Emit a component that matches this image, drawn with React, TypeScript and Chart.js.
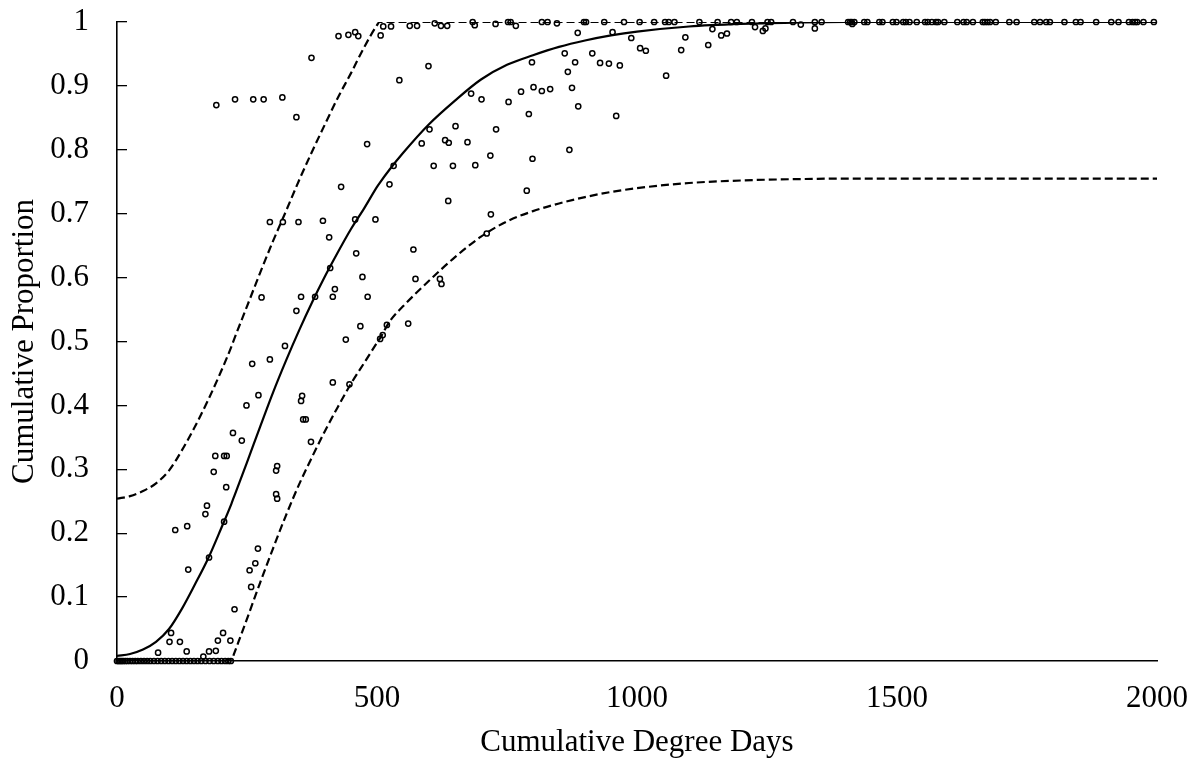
import React, { useEffect, useRef } from "react";
import { Chart, registerables } from "chart.js";

Chart.register(...registerables);

// Observations lying on 0 (x values)
const zeroX = [0, 3, 6, 9, 12, 16, 20, 25, 30, 35, 40, 46, 52, 58, 64, 71, 78, 85, 92, 99, 106, 113, 120, 127, 134, 141, 148, 155, 162, 170, 178, 186, 194, 201, 208, 214, 219];

// Observations lying on 1 (x values)
const oneX = [752, 757, 817, 828, 898, 902, 937, 975, 1005, 1033, 1054, 1061, 1072, 1120, 1155, 1181, 1192, 1221, 1251, 1258, 1300, 1342, 1355, 1406, 1410, 1413, 1418, 1437, 1443, 1466, 1472, 1492, 1499, 1512, 1517, 1524, 1538, 1554, 1559, 1567, 1575, 1579, 1591, 1616, 1628, 1634, 1646, 1665, 1669, 1674, 1679, 1690, 1716, 1730, 1764, 1775, 1787, 1794, 1822, 1844, 1853, 1883, 1912, 1926, 1946, 1953, 1958, 1962, 1974, 1994];

// Other observations
const obsX = [
  79, 101, 104, 121, 134, 166, 177, 190, 194, 204, 218, 226,
  112, 135, 137, 177, 206, 170, 173, 186, 189, 206, 211, 210, 223, 240, 249, 260, 272, 294, 323, 255, 258, 266, 271, 306, 308, 306, 308, 354, 356, 358, 363, 373, 415, 447, 440, 506, 511, 519,
  191, 227, 262, 282, 318, 345, 374, 426, 445, 458, 464, 507, 512, 527, 563, 577, 611, 623, 635, 684, 688, 728, 599, 543, 681, 701, 601, 651, 586, 631, 638, 674, 729, 481, 609, 646, 689, 718, 532, 524, 431, 637, 719, 711, 294, 319, 349, 396, 458, 497, 408, 460, 410, 472, 419, 415, 381, 354, 278, 482, 345, 570, 574, 621, 624, 468, 560,
  767, 846, 1315, 1342, 1414, 886, 953, 989, 1093, 1162, 1173, 1145, 1227, 1242, 1247, 861, 798, 881, 914, 929, 946, 967, 1006, 1017, 1085, 1137, 867, 1056, 753, 777, 801, 817, 833, 875, 792, 887, 960, 799, 870, 788,
];
const obsY = [
  0.013, 0.030, 0.044, 0.030, 0.015, 0.007, 0.015, 0.016, 0.032, 0.044, 0.032, 0.081,
  0.205, 0.211, 0.143, 0.162, 0.218, 0.230, 0.243, 0.296, 0.321, 0.321, 0.321, 0.272, 0.357, 0.345, 0.400, 0.465, 0.416, 0.472, 0.493, 0.142, 0.116, 0.153, 0.176, 0.298, 0.305, 0.261, 0.254, 0.407, 0.415, 0.378, 0.378, 0.343, 0.436, 0.433, 0.503, 0.504, 0.510, 0.526,
  0.870, 0.879, 0.879, 0.879, 0.882, 0.851, 0.944, 0.978, 0.980, 0.984, 0.978, 0.979, 0.993, 0.993, 0.994, 0.994, 0.998, 0.994, 0.994, 1.0, 0.995, 0.997, 0.931, 0.909, 0.888, 0.879, 0.832, 0.837, 0.810, 0.815, 0.811, 0.812, 0.832, 0.809, 0.775, 0.775, 0.776, 0.791, 0.775, 0.746, 0.742, 0.720, 0.699, 0.669, 0.687, 0.687, 0.687, 0.689, 0.691, 0.691, 0.663, 0.638, 0.615, 0.601, 0.582, 0.570, 0.570, 0.570, 0.569, 0.570, 0.548, 0.644, 0.598, 0.598, 0.590, 0.524, 0.528,
  0.994, 0.998, 0.996, 0.990, 0.997, 0.983, 0.984, 0.975, 0.976, 0.979, 0.982, 0.989, 0.992, 0.986, 0.990, 0.951, 0.937, 0.937, 0.951, 0.936, 0.935, 0.932, 0.959, 0.955, 0.956, 0.964, 0.922, 0.916, 0.875, 0.891, 0.898, 0.892, 0.895, 0.897, 0.856, 0.868, 0.853, 0.786, 0.800, 0.736,
];

// Curves
const curveX = [0, 25, 50, 75, 100, 125, 150, 175, 200, 220, 225, 250, 275, 300, 325, 350, 375, 400, 425, 450, 475, 500, 505, 525, 550, 600, 650, 700, 750, 800, 850, 900, 950, 1000, 1100, 1200, 1300, 1400, 1500, 1600, 1700, 1800, 1900, 2000];
const fitY = [0.008, 0.011, 0.018, 0.030, 0.050, 0.082, 0.120, 0.160, 0.207, 0.246, 0.257, 0.311, 0.366, 0.420, 0.470, 0.517, 0.561, 0.602, 0.640, 0.676, 0.708, 0.742, 0.748, 0.770, 0.795, 0.840, 0.877, 0.910, 0.933, 0.948, 0.961, 0.971, 0.979, 0.985, 0.993, 0.997, 0.999, 1, 1, 1, 1, 1, 1, 1];
const upperY = [0.254, 0.258, 0.266, 0.278, 0.298, 0.330, 0.367, 0.408, 0.453, 0.492, 0.503, 0.555, 0.607, 0.657, 0.704, 0.752, 0.797, 0.840, 0.882, 0.920, 0.960, 0.995, 1, 1, 1, 1, 1, 1, 1, 1, 1, 1, 1, 1, 1, 1, 1, 1, 1, 1, 1, 1, 1, 1];
const lowerY = [0, 0, 0, 0, 0, 0, 0, 0, 0, 0, 0.011, 0.066, 0.122, 0.176, 0.228, 0.276, 0.319, 0.360, 0.398, 0.434, 0.466, 0.498, 0.504, 0.532, 0.555, 0.595, 0.632, 0.664, 0.688, 0.704, 0.716, 0.726, 0.734, 0.740, 0.748, 0.752, 0.754, 0.755, 0.755, 0.755, 0.755, 0.755, 0.755, 0.755];

const xTicks = [0, 500, 1000, 1500, 2000];
const yTicks = [0, 0.1, 0.2, 0.3, 0.4, 0.5, 0.6, 0.7, 0.8, 0.9, 1];

const FONT = "'Liberation Serif', 'Times New Roman', Times, serif";

export default function App() {
  const ref = useRef<HTMLCanvasElement>(null);

  useEffect(() => {
    document.body.style.margin = "0";
    const canvas = ref.current;
    if (!canvas) return;

    const points = [
      ...zeroX.map((x) => ({ x, y: 0 })),
      ...oneX.map((x) => ({ x, y: 1 })),
      ...obsX.map((x, i) => ({ x, y: obsY[i] })),
    ];
    const toLine = (ys: number[]) => curveX.map((x, i) => ({ x, y: ys[i] }));

    const lineCommon = {
      showLine: true,
      pointRadius: 0,
      borderColor: "#000",
      backgroundColor: "#000",
      borderWidth: 2.2,
      cubicInterpolationMode: "monotone" as const,
      fill: false,
    };

    const chart = new Chart(canvas, {
      type: "scatter",
      data: {
        datasets: [
          {
            data: points,
            pointRadius: 2.6,
            pointBorderWidth: 1.5,
            pointBorderColor: "#000",
            pointBackgroundColor: "rgba(0,0,0,0)",
            borderColor: "#000",
            backgroundColor: "rgba(0,0,0,0)",
            clip: false as any,
          },
          { ...lineCommon, data: toLine(fitY) },
          { ...lineCommon, data: toLine(upperY), borderDash: [8, 4] },
          { ...lineCommon, data: toLine(lowerY), borderDash: [8, 4] },
        ],
      },
      options: {
        animation: false,
        responsive: false,
        maintainAspectRatio: false,
        layout: { padding: { top: 22, right: 39, left: 0, bottom: 0 } },
        plugins: { legend: { display: false }, tooltip: { enabled: false } },
        scales: {
          x: {
            type: "linear",
            min: 0,
            max: 2000,
            afterFit: (s: any) => {
              s.height = 102;
              s.paddingLeft = 0;
              s.paddingRight = 0;
            },
            afterBuildTicks: (s: any) => {
              s.ticks = xTicks.map((v) => ({ value: v }));
            },
            grid: { display: true, drawOnChartArea: false, drawTicks: false, color: "#000" },
            border: { display: true, color: "#000", width: 1.4 },
            ticks: {
              color: "#000",
              font: { family: FONT, size: 31 },
              padding: 19,
              maxRotation: 0,
              autoSkip: false,
              callback: (v: any) => String(v),
            },
            title: {
              display: true,
              text: "Cumulative Degree Days",
              color: "#000",
              font: { family: FONT, size: 31 },
              padding: { top: 0, bottom: 2 },
            },
          },
          y: {
            type: "linear",
            min: 0,
            max: 1,
            afterFit: (s: any) => {
              s.width = 117;
              s.paddingTop = 0;
              s.paddingBottom = 0;
            },
            afterBuildTicks: (s: any) => {
              s.ticks = yTicks.map((v) => ({ value: v }));
            },
            grid: {
              display: true,
              drawOnChartArea: false,
              drawTicks: true,
              tickLength: -10,
              color: "#000",
              lineWidth: 1.3,
            },
            border: { display: true, color: "#000", width: 1.6 },
            ticks: {
              color: "#000",
              font: { family: FONT, size: 31 },
              padding: 38,
              autoSkip: false,
              callback: (v: any) => String(Math.round(Number(v) * 10) / 10),
            },
            title: {
              display: true,
              text: "Cumulative Proportion",
              color: "#000",
              font: { family: FONT, size: 31 },
              padding: { top: 6, bottom: 0 },
            },
          },
        },
      },
    });

    return () => chart.destroy();
  }, []);

  return (
    <div style={{ width: 1196, height: 763, background: "#fff" }}>
      <canvas ref={ref} width={1196} height={763} style={{ display: "block" }} />
    </div>
  );
}
